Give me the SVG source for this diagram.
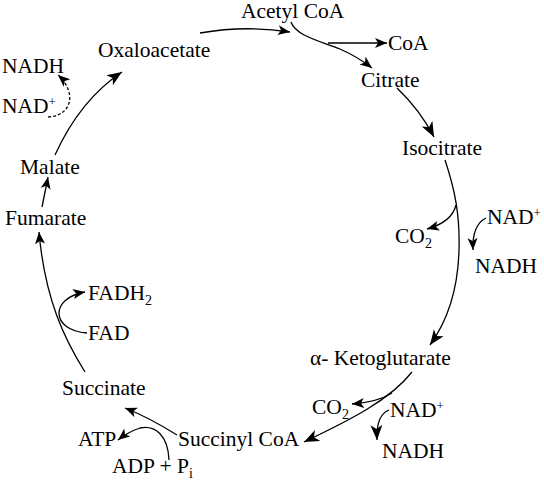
<svg xmlns="http://www.w3.org/2000/svg" width="544" height="483" viewBox="0 0 544 483">
<style>
text{font-family:'Liberation Serif','DejaVu Serif',serif;font-size:21.5px;fill:#000}
.sup{font-size:13px}
.sub{font-size:14px}
.c path{fill:none;stroke:#000;stroke-width:1.3}
.dash{stroke-dasharray:3 2}
</style>
<defs>
<marker id="ab" markerUnits="userSpaceOnUse" markerWidth="17" markerHeight="13" refX="15" refY="6" orient="auto">
<path d="M0,0 L15,6 L0,12 L4,6 z" fill="#000"/>
</marker>
<marker id="as" markerUnits="userSpaceOnUse" markerWidth="14" markerHeight="11" refX="12" refY="5" orient="auto">
<path d="M0,0 L12,5 L0,10 L3,5 z" fill="#000"/>
</marker>
</defs>
<rect width="544" height="483" fill="#fff"/>
<g class="c" id="connectors">
<path d="M200,33 Q245,25 290,32" marker-end="url(#as)"/>
<path d="M291,22 C296,36 320,41 340,49 Q358,57 372,68" marker-end="url(#as)"/>
<path d="M328,43 L387,43" marker-end="url(#as)"/>
<path d="M397,88 Q420,110 434,137" marker-end="url(#ab)"/>
<path d="M445,160 C455,190 460,215 459,250 C458,290 448,320 430,345" marker-end="url(#ab)"/>
<path d="M456,205 Q452,222 427,229" marker-end="url(#as)"/>
<path d="M486,218 Q472,225 473,250" marker-end="url(#as)"/>
<path d="M412,372 C390,400 350,420 304,442" marker-end="url(#ab)"/>
<path d="M392,393 Q378,402 352,404" marker-end="url(#as)"/>
<path d="M389,410 Q376,415 377,440" marker-end="url(#ab)"/>
<path d="M177,435 Q150,418 125,408" marker-end="url(#as)"/>
<path d="M169,460 C168,435 155,425 140,428 Q128,432 118,440" marker-end="url(#as)"/>
<path d="M85,372 C65,340 45,300 39,232" marker-end="url(#as)"/>
<path d="M87,333 C50,330 50,298 85,292" marker-end="url(#as)"/>
<path d="M42,207 L48,177" marker-end="url(#as)"/>
<path d="M55,155 Q80,100 122,72" marker-end="url(#ab)"/>
<path class="dash" d="M48,117 C75,115 75,90 58,75" marker-end="url(#as)"/>
</g>
<g id="acetylcoa"><text x="241" y="18">Acetyl CoA</text></g>
<g id="coa"><text x="388" y="50">CoA</text></g>
<g id="oxaloacetate"><text x="98" y="57">Oxaloacetate</text></g>
<g id="citrate"><text x="361" y="87">Citrate</text></g>
<g id="isocitrate"><text x="402" y="155">Isocitrate</text></g>
<g id="nadh1"><text x="2" y="73">NADH</text></g>
<g id="nad1"><text x="2" y="113">NAD<tspan class="sup" dy="-7">+</tspan></text></g>
<g id="malate"><text x="20" y="174">Malate</text></g>
<g id="fumarate"><text x="5" y="225">Fumarate</text></g>
<g id="co2a"><text x="395" y="243">CO<tspan class="sub" dy="5">2</tspan></text></g>
<g id="nad2"><text x="487" y="224">NAD<tspan class="sup" dy="-7">+</tspan></text></g>
<g id="nadh2"><text x="475" y="273">NADH</text></g>
<g id="fadh2"><text x="88" y="300">FADH<tspan class="sub" dy="5">2</tspan></text></g>
<g id="fad"><text x="88" y="340">FAD</text></g>
<g id="akg"><text x="310" y="365">α- Ketoglutarate</text></g>
<g id="succinate"><text x="62" y="395">Succinate</text></g>
<g id="co2b"><text x="312" y="414">CO<tspan class="sub" dy="5">2</tspan></text></g>
<g id="nad3"><text x="390" y="417">NAD<tspan class="sup" dy="-7">+</tspan></text></g>
<g id="nadh3"><text x="382" y="458">NADH</text></g>
<g id="atp"><text x="78" y="446">ATP</text></g>
<g id="succinylcoa"><text x="178" y="446">Succinyl CoA</text></g>
<g id="adp"><text x="112" y="473">ADP + P<tspan class="sub" dy="5">i</tspan></text></g>
</svg>
